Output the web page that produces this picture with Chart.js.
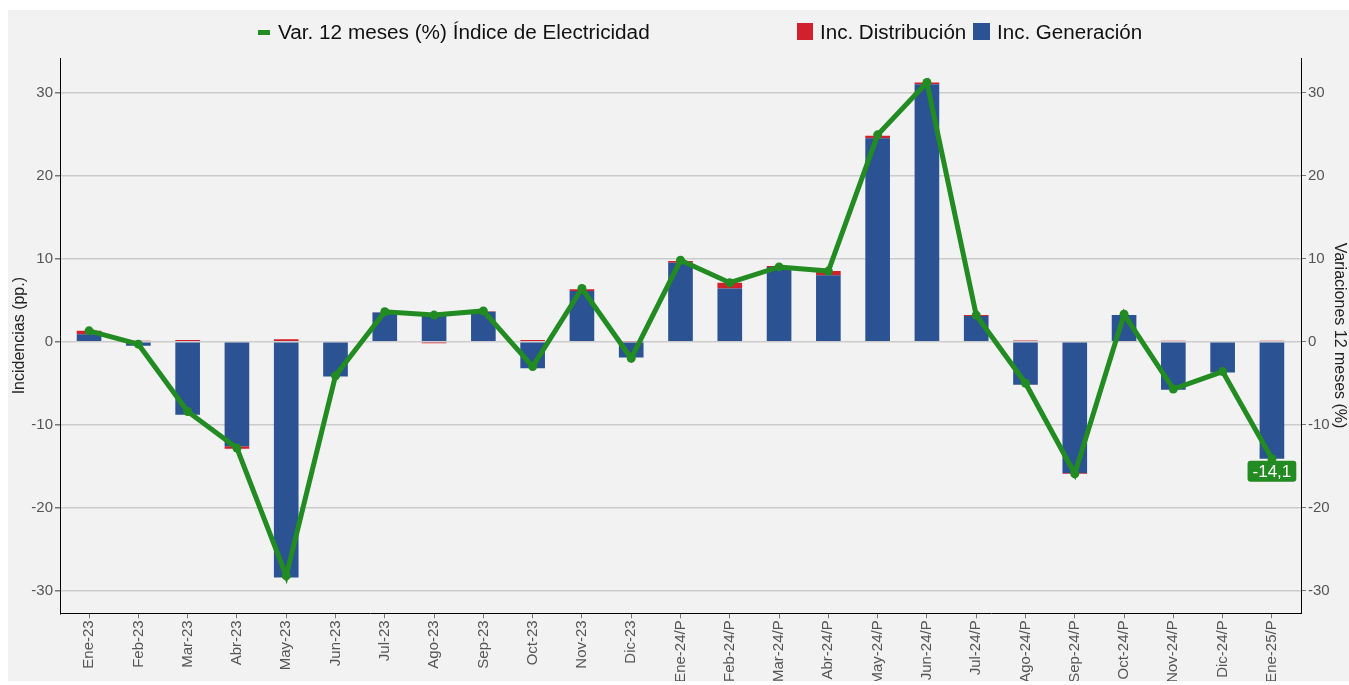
<!DOCTYPE html>
<html lang="es">
<head>
<meta charset="utf-8">
<title>Incidencias en el Índice de Electricidad</title>
<script src="https://cdn.jsdelivr.net/npm/chart.js@4.4.1/dist/chart.umd.min.js"></script>
<style>
    html, body { margin: 0; padding: 0; background: #fff; }
    body { width: 1349px; height: 685px; position: relative; overflow: hidden; font-family: "Liberation Sans", Arial, sans-serif; }
    #panel { position: absolute; left: 8px; top: 10px; width: 1341px; height: 671px; background: #f2f2f2; }
    #panel canvas { display: block; }
    .lg { position: absolute; }
    .lg-text { position: absolute; top: 20px; height: 24px; line-height: 24px; font-size: 20px; color: #111; white-space: nowrap; transform-origin: left center; }
</style>
</head>
<body>
<div id="panel"><canvas id="chart" width="1341" height="671"></canvas></div>

<div class="lg" style="left:258px; top:30px; width:12px; height:5px; background:#228b22;"></div>
<span class="lg-text" data-w="372" style="left:278px;">Var. 12 meses (%) Índice de Electricidad</span>
<div class="lg" style="left:797px; top:23px; width:16px; height:17px; background:#d0212d;"></div>
<span class="lg-text" data-w="146" style="left:820px;">Inc. Distribución</span>
<div class="lg" style="left:973px; top:23px; width:17px; height:17px; background:#2b5293;"></div>
<span class="lg-text" data-w="145" style="left:997px;">Inc. Generación</span>

<script>
// -----------------------------------------------------------------------------
// Data
// -----------------------------------------------------------------------------

const months = [
    'Ene-23', 'Feb-23', 'Mar-23', 'Abr-23', 'May-23', 'Jun-23', 'Jul-23', 'Ago-23', 'Sep-23',
    'Oct-23', 'Nov-23', 'Dic-23', 'Ene-24/P', 'Feb-24/P', 'Mar-24/P', 'Abr-24/P', 'May-24/P',
    'Jun-24/P', 'Jul-24/P', 'Ago-24/P', 'Sep-24/P', 'Oct-24/P', 'Nov-24/P', 'Dic-24/P', 'Ene-25/P'
];

// incidencia de generación (pp.)
const generacion = [
    0.9, -0.5, -8.8, -12.6, -28.4, -4.2, 3.5, 3.2, 3.6, -3.2, 6.1, -1.9,
    9.5, 6.4, 9.0, 8.0, 24.5, 31.0, 3.1, -5.2, -15.8, 3.2, -5.8, -3.7, -14.1
];

// incidencia de distribución (pp.)
const distribucion = [
    0.4, 0.1, 0.2, -0.3, 0.3, 0.0, 0.05, -0.2, 0.05, 0.2, 0.2, 0.05,
    0.2, 0.7, 0.1, 0.5, 0.3, 0.2, 0.1, 0.15, -0.1, -0.1, 0.1, 0.0, 0.1
];

// variación 12 meses del índice (%)
const variacion = [
    1.3, -0.3, -8.4, -12.8, -28.2, -4.1, 3.6, 3.2, 3.7, -3.0, 6.4, -2.0,
    9.8, 7.1, 9.0, 8.5, 24.9, 31.2, 3.2, -5.0, -15.9, 3.3, -5.7, -3.6, -14.1
];

const tickValues = [-30, -20, -10, 0, 10, 20, 30];

// -----------------------------------------------------------------------------
// Styling
// -----------------------------------------------------------------------------

const green = '#228b22';
const red = '#d0212d';
const blue = '#2b5293';
const axisMin = -32.7;
const axisMax = 34.15;

Chart.defaults.animation = false;
Chart.defaults.font.family = '"Liberation Sans", Arial, sans-serif';
Chart.defaults.font.size = 15;
Chart.defaults.color = '#555';

function fixedTicks(scale) {
    scale.ticks = tickValues.map(v => ({ value: v }));
}

// a little extra room at both ends of the category axis, as in the original
function padCategories(scale) {
    const pad = 0.09;
    scale._startValue -= pad;
    scale._valueRange += pad * 2;
}

const lastValueLabel = {
    id: 'lastValueLabel',
    afterDatasetsDraw(chart) {
        const meta = chart.getDatasetMeta(2);
        const pt = meta.data[meta.data.length - 1];
        if (!pt) return;
        const ctx = chart.ctx;
        const text = variacion[variacion.length - 1].toFixed(1).replace('.', ',');
        ctx.save();
        ctx.font = '17px "Liberation Sans", Arial, sans-serif';
        const w = ctx.measureText(text).width + 10;
        const h = 21;
        const x = pt.x - w / 2;
        const y = pt.y + 2;
        ctx.fillStyle = green;
        ctx.beginPath();
        ctx.roundRect(x, y, w, h, 3);
        ctx.fill();
        ctx.fillStyle = '#fff';
        ctx.textAlign = 'center';
        ctx.textBaseline = 'middle';
        ctx.fillText(text, pt.x, y + h / 2 + 1);
        ctx.restore();
    }
};

// -----------------------------------------------------------------------------
// Chart
// -----------------------------------------------------------------------------

new Chart(document.getElementById('chart'), {
    type: 'bar',
    data: {
        labels: months,
        datasets: [
            {
                label: 'Inc. Generación',
                data: generacion,
                backgroundColor: blue,
                borderWidth: 0,
                yAxisID: 'y',
                order: 1
            },
            {
                label: 'Inc. Distribución',
                data: distribucion,
                backgroundColor: red,
                borderWidth: 0,
                yAxisID: 'y',
                order: 1
            },
            {
                type: 'line',
                label: 'Var. 12 meses (%) Índice de Electricidad',
                data: variacion,
                borderColor: green,
                backgroundColor: green,
                borderWidth: 5,
                pointRadius: 4.5,
                pointBorderWidth: 0,
                pointBackgroundColor: green,
                tension: 0,
                yAxisID: 'y1',
                order: 0
            }
        ]
    },
    options: {
        responsive: false,
        maintainAspectRatio: false,
        layout: { padding: { top: 48, left: 0, right: 0, bottom: 0 } },
        datasets: {
            bar: { barPercentage: 0.5, categoryPercentage: 1 }
        },
        plugins: {
            legend: { display: false },
            tooltip: { enabled: false }
        },
        scales: {
            x: {
                stacked: true,
                offset: true,
                afterBuildTicks: padCategories,
                afterFit: s => { s.height = 67.7; },
                border: { color: '#000', width: 1 },
                grid: { drawOnChartArea: false, offset: false, tickLength: 5, tickColor: '#777' },
                ticks: { color: '#555', maxRotation: 90, minRotation: 90, autoSkip: false, padding: 2 }
            },
            y: {
                position: 'left',
                stacked: true,
                min: axisMin,
                max: axisMax,
                afterBuildTicks: fixedTicks,
                afterFit: s => { s.width = 52; },
                border: { color: '#000', width: 1 },
                grid: { color: '#cbcbcb', lineWidth: 1.5, tickLength: 5, tickColor: '#777' },
                ticks: { color: '#555', padding: 2 },
                title: {
                    display: true,
                    text: 'Incidencias (pp.)',
                    color: '#222',
                    font: { size: 16 },
                    padding: { top: 2, bottom: 0 }
                }
            },
            y1: {
                position: 'right',
                min: axisMin,
                max: axisMax,
                afterBuildTicks: fixedTicks,
                afterFit: s => { s.width = 48; },
                border: { color: '#000', width: 1 },
                grid: { drawOnChartArea: false, tickLength: 5, tickColor: '#777' },
                ticks: { color: '#555', padding: 2 },
                title: {
                    display: true,
                    text: 'Variaciones 12 meses (%)',
                    color: '#222',
                    font: { size: 16 },
                    padding: { top: 0, bottom: 0 }
                }
            }
        }
    },
    plugins: [lastValueLabel]
});

// squeeze the legend texts to the widths of the original
document.querySelectorAll('.lg-text').forEach(el => {
    const target = parseFloat(el.dataset.w);
    const w = el.offsetWidth;
    if (w > 0) el.style.transform = 'scaleX(' + (target / w) + ')';
});
</script>
</body>
</html>
